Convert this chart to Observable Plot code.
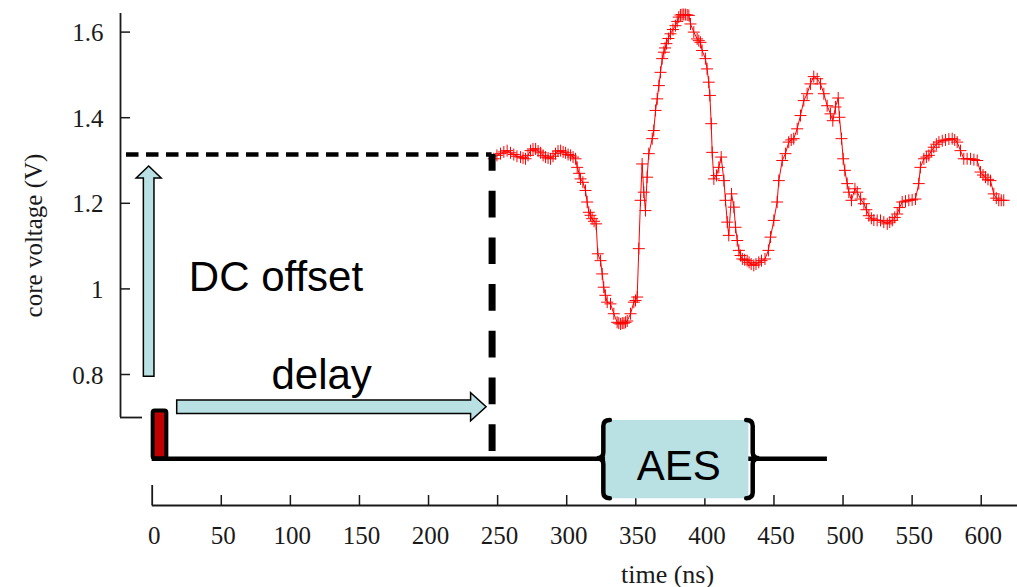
<!DOCTYPE html>
<html><head><meta charset="utf-8">
<script src="https://cdn.jsdelivr.net/npm/d3@7"></script>
<script src="https://cdn.jsdelivr.net/npm/@observablehq/plot@0.6"></script>
<style>html,body{margin:0;padding:0;background:#fff;overflow:hidden;} #chart svg{display:block;}</style>
</head><body><div id="chart"></div>
<script>
// ---- data ----
const timeNs = [
247.2,249.5,252.1,254.5,256.9,259.3,261.7,264.0,266.6,268.4,270.2,272.0,273.8,275.6,277.5,279.3,281.1,282.9,284.7,286.5,
288.3,290.1,291.9,293.7,295.6,297.4,299.2,301.0,302.8,304.6,306.4,307.6,309.0,310.0,311.7,313.6,314.8,316.0,317.2,318.4,
319.8,321.3,322.5,324.5,325.7,326.8,328.0,329.3,331.7,334.1,336.5,337.7,339.0,340.2,341.4,342.6,343.8,346.2,348.6,349.8,
351.0,352.2,353.4,354.6,355.8,357.0,358.2,359.4,361.9,363.0,364.3,365.5,366.7,367.9,369.1,370.3,371.2,372.2,373.6,375.1,
376.9,378.7,380.0,381.1,382.3,383.5,384.7,385.9,387.2,388.4,389.6,392.0,394.4,395.6,396.8,398.0,400.4,401.6,402.8,403.6,
404.6,405.3,406.5,408.4,410.1,411.8,413.8,414.9,416.2,417.3,419.3,421.0,422.2,423.4,424.6,425.8,427.1,428.8,430.6,432.0,
433.5,435.4,437.0,439.0,441.0,443.5,446.0,447.5,449.9,452.3,453.5,456.0,458.3,460.7,462.5,464.3,466.8,469.2,471.6,474.0,
476.4,478.8,481.3,483.7,486.1,488.5,490.9,492.6,494.5,496.5,497.4,498.9,500.1,501.3,503.0,504.2,506.1,508.6,510.3,512.7,
515.1,516.9,518.7,520.5,522.3,524.7,527.1,529.5,532.0,533.8,535.6,537.4,539.2,540.9,542.8,545.2,547.6,550.0,552.4,554.8,
556.0,558.5,560.3,562.1,563.9,565.7,567.5,569.4,571.8,574.2,576.6,579.0,580.8,582.6,585.0,587.4,589.8,592.3,594.7,597.1,
599.5,601.3,603.1,604.9,606.7,609.1,610.9,612.7,614.5,616.3
];
const coreVoltage = [
1.304,1.312,1.316,1.320,1.323,1.318,1.314,1.310,1.308,1.306,1.304,1.312,1.323,1.327,1.327,1.322,1.318,1.312,1.308,1.306,
1.304,1.310,1.316,1.322,1.323,1.320,1.318,1.314,1.312,1.308,1.304,1.284,1.270,1.257,1.249,1.230,1.203,1.179,1.172,1.164,
1.158,1.152,1.082,1.066,1.035,1.004,0.985,0.969,0.965,0.942,0.922,0.920,0.918,0.920,0.920,0.922,0.925,0.942,0.969,0.973,
0.981,1.094,1.207,1.292,1.226,1.183,1.261,1.316,1.351,1.370,1.417,1.444,1.475,1.506,1.538,1.553,1.563,1.573,1.585,1.596,
1.606,1.615,1.625,1.635,1.640,1.641,1.641,1.641,1.640,1.639,1.619,1.600,1.584,1.580,1.576,1.557,1.538,1.514,1.483,1.452,
1.386,1.319,1.257,1.265,1.284,1.308,1.253,1.207,1.156,1.125,1.222,1.191,1.144,1.113,1.090,1.078,1.070,1.068,1.066,1.062,
1.058,1.055,1.058,1.062,1.066,1.070,1.090,1.121,1.160,1.203,1.253,1.300,1.316,1.343,1.348,1.351,1.374,1.405,1.440,1.456,
1.479,1.496,1.491,1.479,1.456,1.428,1.409,1.393,1.425,1.446,1.401,1.351,1.304,1.277,1.246,1.226,1.207,1.234,1.226,1.210,
1.199,1.185,1.171,1.165,1.161,1.160,1.160,1.156,1.152,1.156,1.160,1.167,1.175,1.190,1.203,1.205,1.207,1.208,1.210,1.246,
1.284,1.304,1.308,1.312,1.322,1.331,1.338,1.343,1.346,1.348,1.350,1.351,1.348,1.343,1.323,1.304,1.304,1.304,1.302,1.300,
1.273,1.266,1.261,1.256,1.253,1.222,1.212,1.207,1.207,1.207
];
const xTicks = [0, 50, 100, 150, 200, 250, 300, 350, 400, 450, 500, 550, 600];
const yTicks = [0.8, 1.0, 1.2, 1.4, 1.6];
const yTickLabels = ["0.8", "1", "1.2", "1.4", "1.6"];
const xTitle = ["time (ns)"];
const yTitle = ["core voltage (V)"];
const dcLabel = ["DC offset"];
const delayLabel = ["delay"];
const aesLabel = ["AES"];

// annotation values (data units)
const delayNs = 246;        // trigger-to-trace delay
const dcOffsetV = 1.314;    // DC level of the trace
const aesStart = 328.1, aesEnd = 431.8;
const timelineEnd = 488.7;
const timelineV = 0.603;

// ---- layout (scale domains chosen so the frame matches the picture) ----
const W = 1017, H = 587;
const xDomain = [-109.79, 626.26];
const yDomain = [0.30234, 1.67383];
const pxX = (xDomain[1] - xDomain[0]) / W;   // data units per pixel
const pxY = (yDomain[1] - yDomain[0]) / H;
const yAxisX = -22.94, yAxisLo = 0.6995, yAxisHi = 1.6435;
const xAxisV = 0.4939;

const series = timeNs.map((t, i) => ({t, v: coreVoltage[i]}));
const ink = "#1a1a1a";
const serif = "Liberation Serif, Times New Roman, serif";
const sans = "Liberation Sans, Arial, sans-serif";
const cyan = "#b9e0e3";

const plusSymbol = {
  draw(ctx, size) {
    const r = Math.sqrt(size / Math.PI);
    ctx.moveTo(-r, 0); ctx.lineTo(r, 0);
    ctx.moveTo(0, -r); ctx.lineTo(0, r);
  }
};

// arrows and braces drawn with scale-derived anchors
const decorations = (index, {x, y}) => {
  const g = d3.create("svg:g");
  {
    const cx = x(-2.2), yB = y(0.795), yT = y(dcOffsetV) + 12;
    const sw = 5.3, hw = 12.5, hl = 12;
    g.append("path")
      .attr("d", `M${cx - sw},${yB}L${cx - sw},${yT + hl}L${cx - hw},${yT + hl}L${cx},${yT}L${cx + hw},${yT + hl}L${cx + sw},${yT + hl}L${cx + sw},${yB}Z`)
      .attr("fill", cyan).attr("stroke", "#000").attr("stroke-width", 1.5);
  }
  {
    const xL = x(18.1), xT = x(delayNs) - 5.5, cy = y(0.7236);
    const sw = 6.7, hw = 14, hl = 15.5;
    g.append("path")
      .attr("d", `M${xL},${cy - sw}L${xT - hl},${cy - sw}L${xT - hl},${cy - hw}L${xT},${cy}L${xT - hl},${cy + hw}L${xT - hl},${cy + sw}L${xL},${cy + sw}Z`)
      .attr("fill", cyan).attr("stroke", "#000").attr("stroke-width", 1.5);
  }
  const top = y(0.6925), bot = y(0.5096), mid = y(timelineV);
  const brace = (bx, dir) => {
    const e = 6.5 * dir, c = 6;
    return `M${bx + e},${top}Q${bx},${top} ${bx},${top + c}L${bx},${mid - c}Q${bx},${mid} ${bx - e},${mid}Q${bx},${mid} ${bx},${mid + c}L${bx},${bot - c}Q${bx},${bot} ${bx + e},${bot}`;
  };
  g.append("path").attr("d", brace(x(aesStart) - 1.7, 1))
    .attr("fill", "none").attr("stroke", "#000").attr("stroke-width", 4.5).attr("stroke-linecap", "round");
  g.append("path").attr("d", brace(x(aesEnd) + 4.4, -1))
    .attr("fill", "none").attr("stroke", "#000").attr("stroke-width", 4.5).attr("stroke-linecap", "round");
  return g.node();
};

const chart = Plot.plot({
  width: W, height: H, margin: 0,
  x: {domain: xDomain, axis: null},
  y: {domain: yDomain, axis: null},
  style: {background: "#fff", overflow: "visible"},
  marks: [
    Plot.ruleX([yAxisX], {y1: yAxisLo, y2: yAxisHi, stroke: ink, strokeWidth: 1.8}),
    Plot.ruleY([yAxisLo], {x1: yAxisX, x2: -7, stroke: ink, strokeWidth: 1.8}),
    Plot.ruleY(yTicks, {y: d => d, x1: yAxisX, x2: yAxisX + 10 * pxX, stroke: ink, strokeWidth: 1.5}),
    Plot.text(yTicks, {x: yAxisX, y: d => d, text: (d, i) => yTickLabels[i], textAnchor: "end", dx: -17, dy: 1,
      fontFamily: serif, fontSize: 25, fill: ink}),
    Plot.text(yTitle, {x: xDomain[0] + 33.7 * pxX, y: 1.1248, text: d => d, rotate: -90,
      fontFamily: serif, fontSize: 25, fill: ink}),
    Plot.ruleX([0], {y1: xAxisV, y2: xAxisV + 20 * pxY, stroke: ink, strokeWidth: 1.8}),
    Plot.ruleY([xAxisV], {x1: 0, x2: xDomain[1], stroke: ink, strokeWidth: 1.8}),
    Plot.ruleX(xTicks.filter(d => d > 0), {x: d => d, y1: xAxisV, y2: xAxisV + 10 * pxY, stroke: ink, strokeWidth: 1.5}),
    Plot.text(xTicks, {x: d => d, y: xAxisV, text: d => String(d), dy: 30, dx: 2,
      fontFamily: serif, fontSize: 25, fill: ink}),
    Plot.text(xTitle, {x: 373, y: xAxisV, text: d => d, dy: 69,
      fontFamily: serif, fontSize: 26, fill: ink}),
    Plot.line(series, {x: "t", y: "v", stroke: "#ff0000", strokeWidth: 1}),
    Plot.dot(series, {x: "t", y: "v", symbol: plusSymbol, r: 6, stroke: "#ff0000", strokeWidth: 1, fill: "none"}),
    Plot.ruleY([dcOffsetV], {x1: -18.6, x2: delayNs, stroke: "#000", strokeWidth: 4.5, strokeDasharray: "12.5,7.5"}),
    Plot.ruleX([delayNs], {y1: dcOffsetV, y2: 0.6185, stroke: "#000", strokeWidth: 7, strokeDasharray: "26.7,20", strokeDashoffset: 10}),
    Plot.ruleY([timelineV], {x1: 0, x2: timelineEnd, stroke: "#000", strokeWidth: 4.5}),
    Plot.rect([0], {x1: aesStart, x2: aesEnd, y1: 0.5096, y2: 0.6925, fill: cyan}),
    Plot.rect([0], {x1: 0.7, x2: 10.6, y1: timelineV, y2: 0.715, fill: "#c00000", stroke: "#000", strokeWidth: 4, rx: 2}),
    decorations,
    Plot.text(dcLabel, {x: 26.5, y: 1.026, text: d => d, textAnchor: "start", fontFamily: sans, fontSize: 42, fill: "#000"}),
    Plot.text(delayLabel, {x: 86.3, y: 0.7985, text: d => d, textAnchor: "start", fontFamily: sans, fontSize: 42, fill: "#000"}),
    Plot.text(aesLabel, {x: 381.1, y: 0.586, text: d => d, textAnchor: "middle", fontFamily: sans, fontSize: 42, fill: "#000"})
  ]
});
document.getElementById("chart").append(chart);
</script>
</body></html>
